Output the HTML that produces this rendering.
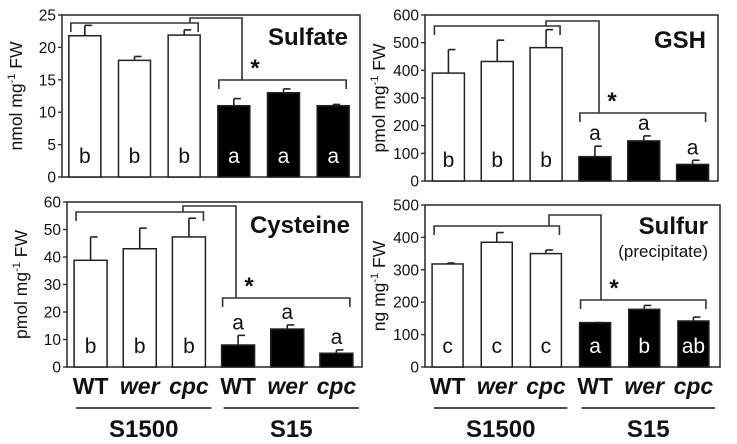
<!DOCTYPE html>
<html><head><meta charset="utf-8"><style>
html,body{margin:0;padding:0;background:#fff;}
svg{display:block;font-family:"Liberation Sans",Arial,sans-serif;}
</style></head><body>
<svg id="fig" width="737" height="444" viewBox="0 0 737 444" xmlns="http://www.w3.org/2000/svg"></svg>
<script>
const categories = ["WT","wer","cpc","WT","wer","cpc"];
const sulfateVals = [21.8,18.0,21.9,11.0,13.0,11.0];
const sulfateErr  = [1.6,0.6,0.8,1.1,0.6,0.2];
const sulfateLetters = ["b","b","b","a","a","a"];
const gshVals = [390,432,482,88,145,60];
const gshErr  = [85,77,65,38,18,15];
const gshLetters = ["b","b","b","a","a","a"];
const cysVals = [38.8,43.0,47.3,8.0,13.8,5.0];
const cysErr  = [8.5,7.5,6.8,3.5,1.5,1.2];
const cysLetters = ["b","b","b","a","a","a"];
const sulfurVals = [318,385,350,137,178,142];
const sulfurErr  = [3,30,11,0,12,12];
const sulfurLetters = ["c","c","c","a","b","ab"];
const sulfateTicks = [0,5,10,15,20,25];
const gshTicks = [0,100,200,300,400,500,600];
const cysTicks = [0,10,20,30,40,50,60];
const sulfurTicks = [0,100,200,300,400,500];
const groupLabels = ["S1500","S15"];

const NS="http://www.w3.org/2000/svg";
const svg=document.getElementById('fig');
function mk(tag,attrs,parent){const e=document.createElementNS(NS,tag);for(const k in attrs)e.setAttribute(k,attrs[k]);(parent||svg).appendChild(e);return e;}

function panel(o){
  const g=mk('g',{});
  
  
  const max=o.ticks[o.ticks.length-1];
  const y=v=>o.y1-(v/max)*(o.y1-o.y0);
  const step=(o.x1-o.x0)/6;
  const bx=i=>o.x0+step*i+(step-o.bw)/2+o.off;
  const fr=mk('rect',{x:o.x0,y:o.y0,width:o.x1-o.x0,height:o.y1-o.y0,fill:'none',stroke:'#333','stroke-width':1.6},g);
  
  
  o.ticks.forEach(t=>{
    const tl=mk('line',{x1:o.x0-4,x2:o.x0,y1:y(t),y2:y(t),stroke:'#333','stroke-width':1.4},g);
    
    
    const tx=mk('text',{x:o.x0-6,y:y(t)+5.5,'text-anchor':'end','font-size':15.5,fill:'#111'},g);
    tx.textContent=t;
    
    
  });
  const yl=mk('text',{x:0,y:0,transform:`translate(${o.x0-40},${(o.y0+o.y1)/2}) rotate(-90)`,'text-anchor':'middle','font-size':17.5,fill:'#111'},g);
  yl.innerHTML=o.unit+' mg<tspan dy="-7" font-size="11">-1</tspan><tspan dy="7"> FW</tspan>';
  
  
  o.vals.forEach((v,i)=>{
    const black=i>=3;
    const x=bx(i), top=y(v), cx=x+o.bw/2;
    const et=y(v+o.err[i]);
    const el=mk('line',{x1:cx,x2:cx,y1:top,y2:et,stroke:'#222','stroke-width':1.6},g);
    
    
    const ec=mk('line',{x1:cx,x2:cx+7,y1:et,y2:et,stroke:'#222','stroke-width':1.6},g);
    
    
    const r=mk('rect',{x:x,y:top,width:o.bw,height:o.y1-top,fill:black?'#000':'#fff',stroke:'#222','stroke-width':1.5},g);
    
    
    const above=black&&o.lettersAbove;
    const ly=above?et-6:o.y1-14;
    const lt=mk('text',{x:cx,y:ly,'text-anchor':'middle','font-size':21,fill:(black&&!above)?'#fff':'#111'},g);
    lt.textContent=o.letters[i];
    
    
  });
  const b=o.br;
  const path=`M${bx(0)+2},${b.ly+9}V${b.ly}H${bx(2)+o.bw-2}V${b.ly+9} M${b.cx},${b.ly}V${b.ty}H${b.rx}V${b.ry} M${bx(3)+1},${b.ry+9}V${b.ry}H${bx(5)+o.bw-3}V${b.ry+9}`;
  const bp=mk('path',{d:path,fill:'none',stroke:'#333','stroke-width':1.6},g);
  
  
  const st=mk('text',{x:b.rx+13,y:b.ry-4,'text-anchor':'middle','font-size':24,'font-weight':'bold',fill:'#111'},g);
  st.textContent='*';
  
  
  const ti=mk('text',{x:o.x1-12,y:o.ty,'text-anchor':'end','font-size':24,'font-weight':'bold',fill:'#111'},g);
  ti.textContent=o.title;
  
  
  if(o.sub){const s=mk('text',{x:o.x1-12,y:o.ty+23,'text-anchor':'end','font-size':17,fill:'#111'},g);s.textContent=o.sub;
    
    }
  if(o.xlabels){
    categories.forEach((c,i)=>{
      const t=mk('text',{x:bx(i)+o.bw/2,y:394,'text-anchor':'middle','font-size':23,'font-weight':'bold','font-style':i%3===0?'normal':'italic',fill:'#111'},g);
      t.textContent=c;
      
      
    });
    groupLabels.forEach((gl,k)=>{
      const a=bx(3*k)+2, e=bx(3*k+2)+o.bw+6;
      const ln=mk('line',{x1:a,x2:e,y1:408,y2:408,stroke:'#333','stroke-width':1.8},g);
      
      
      const t=mk('text',{x:(a+e)/2,y:437,'text-anchor':'middle','font-size':24,'font-weight':'bold',fill:'#111'},g);
      t.textContent=gl;
      
      
    });
  }
}
panel({name:'sulfate',x0:62,x1:360,y0:15,y1:177,bw:32,off:-2,vals:sulfateVals,err:sulfateErr,letters:sulfateLetters,ticks:sulfateTicks,unit:'nmol',title:'Sulfate',ty:45,lettersAbove:false,
  br:{ly:23,cx:190,ty:18,rx:242,ry:80}});
panel({name:'gsh',x0:425,x1:718,y0:15,y1:181,bw:32,off:-1,vals:gshVals,err:gshErr,letters:gshLetters,ticks:gshTicks,unit:'pmol',title:'GSH',ty:48,lettersAbove:true,
  br:{ly:26,cx:546,ty:21,rx:599,ry:113}});
panel({name:'cysteine',x0:67,x1:362,y0:202,y1:367,bw:33,off:-1,vals:cysVals,err:cysErr,letters:cysLetters,ticks:cysTicks,unit:'pmol',title:'Cysteine',ty:233,lettersAbove:true,
  br:{ly:212,cx:183,ty:206,rx:236,ry:298},xlabels:true});
panel({name:'sulfur',x0:425,x1:720,y0:205,y1:367,bw:31,off:-2,vals:sulfurVals,err:sulfurErr,letters:sulfurLetters,ticks:sulfurTicks,unit:'ng',title:'Sulfur',ty:234,sub:'(precipitate)',lettersAbove:false,
  br:{ly:226,cx:549,ty:215,rx:601,ry:300},xlabels:true});
</script>
</body></html>
